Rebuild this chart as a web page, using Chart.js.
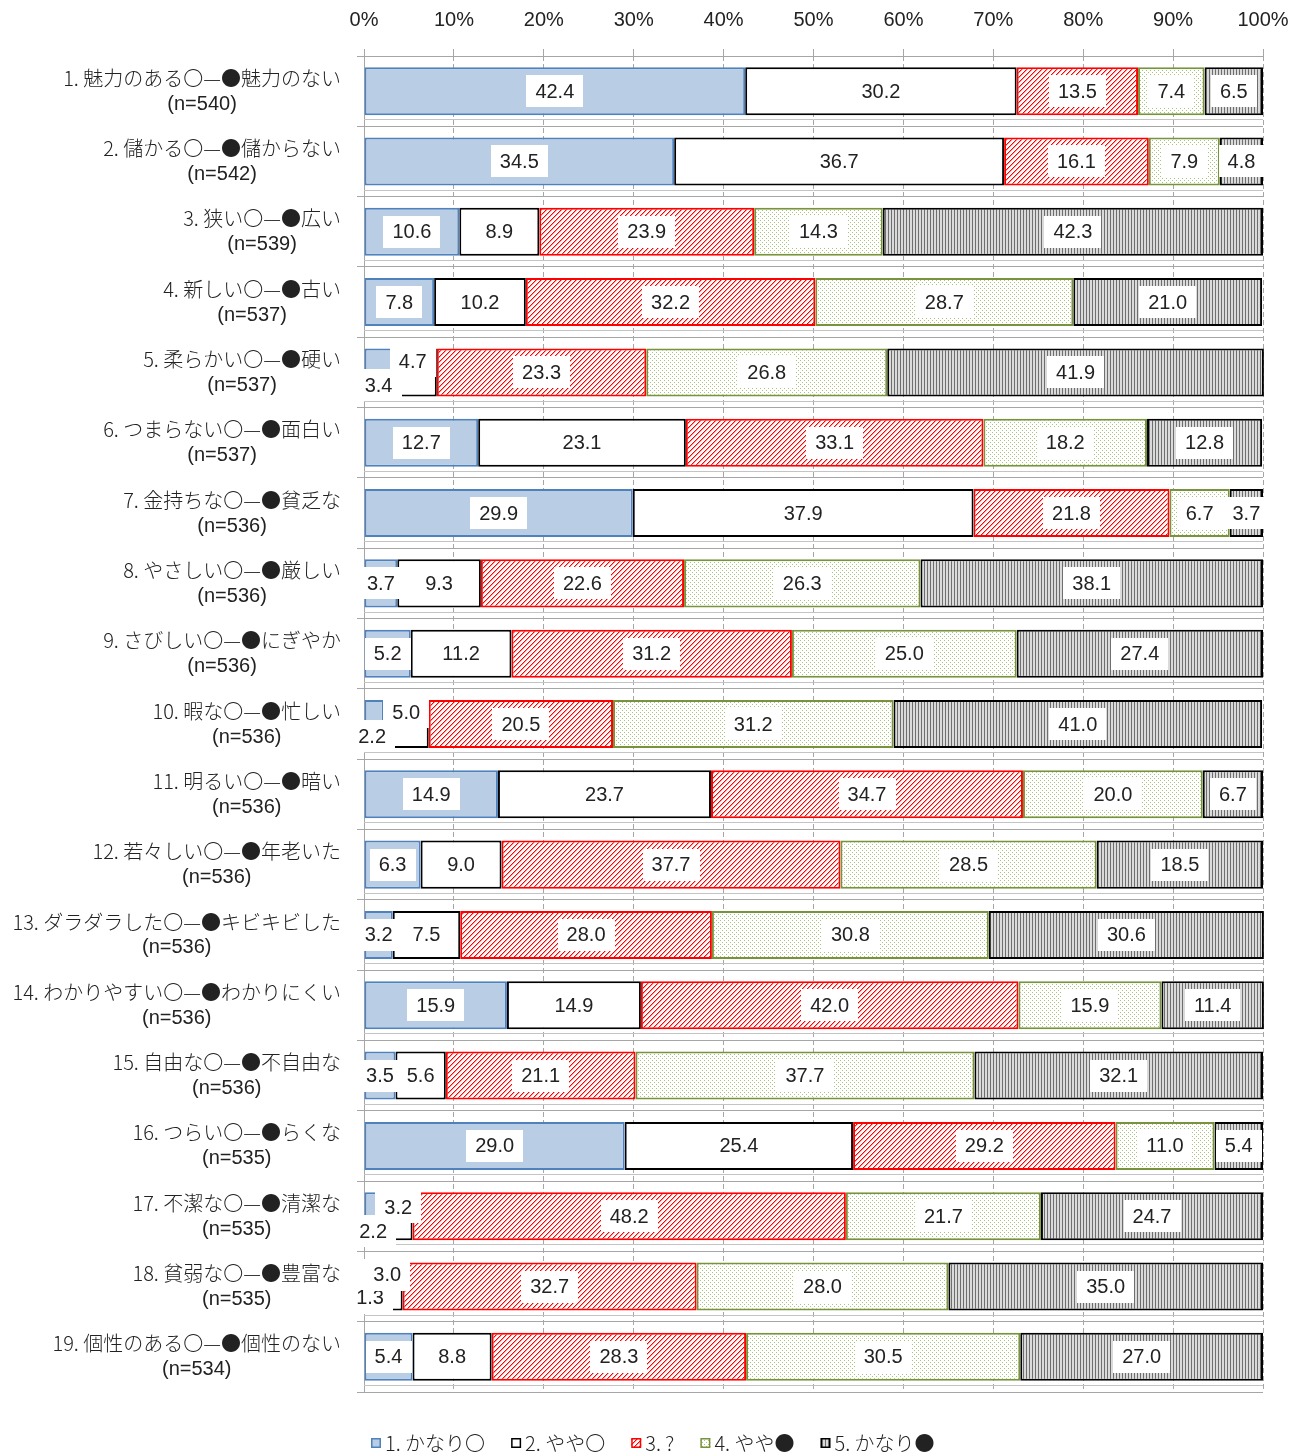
<!DOCTYPE html>
<html lang="ja">
<head>
<meta charset="utf-8">
<title>イメージ評価</title>
<script src="https://cdn.jsdelivr.net/npm/chart.js@4.4.1/dist/chart.umd.min.js"></script>
<style>
  html, body { margin: 0; padding: 0; background: #fff; }
  #wrap { width: 1299px; height: 1455px; }
</style>
</head>
<body>
<div id="wrap"><canvas id="chart" width="1299" height="1455"></canvas></div>
<script>
// item wording and sample sizes
const categories = [
  "1. 魅力のある〇—●魅力のない",
  "2. 儲かる〇—●儲からない",
  "3. 狭い〇—●広い",
  "4. 新しい〇—●古い",
  "5. 柔らかい〇—●硬い",
  "6. つまらない〇—●面白い",
  "7. 金持ちな〇—●貧乏な",
  "8. やさしい〇—●厳しい",
  "9. さびしい〇—●にぎやか",
  "10. 暇な〇—●忙しい",
  "11. 明るい〇—●暗い",
  "12. 若々しい〇—●年老いた",
  "13. ダラダラした〇—●キビキビした",
  "14. わかりやすい〇—●わかりにくい",
  "15. 自由な〇—●不自由な",
  "16. つらい〇—●らくな",
  "17. 不潔な〇—●清潔な",
  "18. 貧弱な〇—●豊富な",
  "19. 個性のある〇—●個性のない"
];
const sampleSizes = [540, 542, 539, 537, 537, 537, 536, 536, 536, 536, 536, 536, 536, 536, 536, 535, 535, 535, 534];

const seriesNames = ["1. かなり〇", "2. やや〇", "3. ?", "4. やや●", "5. かなり●"];
const kanariMaru  = [42.4, 34.5, 10.6, 7.8, 3.4, 12.7, 29.9, 3.7, 5.2, 2.2, 14.9, 6.3, 3.2, 15.9, 3.5, 29.0, 2.2, 1.3, 5.4];
const yayaMaru    = [30.2, 36.7, 8.9, 10.2, 4.7, 23.1, 37.9, 9.3, 11.2, 5.0, 23.7, 9.0, 7.5, 14.9, 5.6, 25.4, 3.2, 3.0, 8.8];
const dochiramo   = [13.5, 16.1, 23.9, 32.2, 23.3, 33.1, 21.8, 22.6, 31.2, 20.5, 34.7, 37.7, 28.0, 42.0, 21.1, 29.2, 48.2, 32.7, 28.3];
const yayaKuro    = [7.4, 7.9, 14.3, 28.7, 26.8, 18.2, 6.7, 26.3, 25.0, 31.2, 20.0, 28.5, 30.8, 15.9, 37.7, 11.0, 21.7, 28.0, 30.5];
const kanariKuro  = [6.5, 4.8, 42.3, 21.0, 41.9, 12.8, 3.7, 38.1, 27.4, 41.0, 6.7, 18.5, 30.6, 11.4, 32.1, 5.4, 24.7, 35.0, 27.0];

const xTicks = [0, 10, 20, 30, 40, 50, 60, 70, 80, 90, 100];

// thin segments: their labels are pushed above/below the bar (dataset:row -> dx, dy)
const labelNudge = {
  "0:4": [-1, 13], "1:4": [-3, -11],
  "0:9": [-2, 12], "1:9": [0, -12],
  "0:16": [-1, 15], "1:16": [0, -9],
  "0:17": [0, 11], "1:17": [-2, -12]
};

const FONT = "'Liberation Sans', Arial, 'Noto Sans CJK JP', sans-serif";
const JP_FONT = "'Noto Sans CJK JP', 'Liberation Sans', sans-serif";
const TEXT = "#222222";
const GRID = "#a6a6a6";

const canvas = document.getElementById("chart");
const ctx = canvas.getContext("2d");

function tile(w, h, paint) {
  const c = document.createElement("canvas");
  c.width = w;
  c.height = h;
  const g = c.getContext("2d");
  g.fillStyle = "#fff";
  g.fillRect(0, 0, w, h);
  paint(g);
  return ctx.createPattern(c, "repeat");
}

// red "///" hatch
const redHatch = tile(5, 5, (g) => {
  for (let x = 0; x < 5; x++) {
    for (let y = 0; y < 5; y++) {
      const k = (x + y) % 5;
      if (k === 0) { g.fillStyle = "#ff0000"; g.fillRect(x, y, 1, 1); }
      else if (k === 1) { g.fillStyle = "#ff9c9c"; g.fillRect(x, y, 1, 1); }
    }
  }
});

// sparse green dots
const greenDots = tile(4, 4, (g) => {
  g.fillStyle = "#a9c37a";
  g.fillRect(0, 0, 1, 1);
  g.fillRect(2, 2, 1, 1);
});

// dense vertical stripes
const grayStripes = tile(3, 1, (g) => {
  g.fillStyle = "#6e6e6e";
  g.fillRect(0, 0, 1, 1);
  g.fillStyle = "#dadada";
  g.fillRect(1, 0, 2, 1);
});

const seriesData = [kanariMaru, yayaMaru, dochiramo, yayaKuro, kanariKuro];
const fills = ["#b9cde5", "#ffffff", redHatch, greenDots, grayStripes];
const borders = ["#4f81bd", "#000000", "#ff0000", "#77933c", "#000000"];

const datasets = seriesData.map((values, i) => ({
  label: seriesNames[i],
  data: values,
  backgroundColor: fills[i],
  borderColor: borders[i],
  borderWidth: 2,
  borderSkipped: false,
  categoryPercentage: 1,
  barPercentage: 0.683,
  clip: 4
}));

// second faint line just under every bar row
const rowLines = {
  id: "rowLines",
  beforeDatasetsDraw(chart) {
    const { ctx, chartArea, scales } = chart;
    const y = scales.y;
    const step = (chartArea.bottom - chartArea.top) / categories.length;
    ctx.save();
    ctx.strokeStyle = "#c4c4c4";
    ctx.lineWidth = 1;
    for (let i = 0; i < categories.length; i++) {
      const yy = Math.round(y.getPixelForValue(i) + step / 2 - 7) + 0.5;
      ctx.beginPath();
      ctx.moveTo(chartArea.left, yy);
      ctx.lineTo(chartArea.right, yy);
      ctx.stroke();
    }
    ctx.restore();
  }
};

// value labels on white boxes
const valueLabels = {
  id: "valueLabels",
  afterDatasetsDraw(chart) {
    const ctx = chart.ctx;
    ctx.save();
    ctx.font = "20px " + FONT;
    ctx.textAlign = "center";
    ctx.textBaseline = "middle";
    chart.data.datasets.forEach((ds, di) => {
      chart.getDatasetMeta(di).data.forEach((bar, i) => {
        const text = ds.data[i].toFixed(1);
        const nudge = labelNudge[di + ":" + i] || [0, 0];
        const x = (bar.x + bar.base) / 2 + nudge[0];
        const y = bar.y + nudge[1];
        const w = ctx.measureText(text).width + 18;
        const h = 32;
        ctx.fillStyle = "#fff";
        ctx.fillRect(Math.round(x - w / 2), Math.round(y - h / 2), Math.round(w), h);
        ctx.fillStyle = TEXT;
        ctx.fillText(text, x, y + 1);
      });
    });
    ctx.restore();
  }
};

// two-line category labels, each block centred and right aligned to the axis
const rowLabels = {
  id: "rowLabels",
  afterDraw(chart) {
    const ctx = chart.ctx;
    const right = chart.chartArea.left - 23;
    ctx.save();
    ctx.fillStyle = TEXT;
    ctx.textAlign = "center";
    ctx.textBaseline = "middle";
    const jp = "300 20px " + JP_FONT;
    const latin = "20px " + FONT;
    categories.forEach((name, i) => {
      const second = "(n=" + sampleSizes[i] + ")";
      ctx.font = jp;
      const w1 = ctx.measureText(name).width;
      ctx.font = latin;
      const w2 = ctx.measureText(second).width;
      const cx = right - Math.max(w1, w2) / 2;
      const cy = chart.scales.y.getPixelForValue(i);
      ctx.font = jp;
      ctx.fillText(name, cx, cy - 13);
      ctx.font = latin;
      ctx.fillText(second, cx, cy + 13);
    });
    ctx.restore();
  }
};

// legend row along the bottom
const legendRow = {
  id: "legendRow",
  afterDraw(chart) {
    const ctx = chart.ctx;
    const box = 10, gapText = 4, gapItem = 26;
    const cy = 1443;
    ctx.save();
    ctx.font = "300 20px " + JP_FONT;
    ctx.textBaseline = "middle";
    ctx.textAlign = "left";
    const widths = seriesNames.map((n) => box + gapText + ctx.measureText(n).width);
    const total = widths.reduce((a, b) => a + b, 0) + gapItem * (widths.length - 1);
    let x = Math.round(chart.width / 2 - total / 2 + 3);
    seriesNames.forEach((n, i) => {
      const top = Math.round(cy - box / 2);
      ctx.fillStyle = fills[i];
      ctx.fillRect(x, top, box, box);
      ctx.strokeStyle = borders[i];
      ctx.lineWidth = 1.5;
      ctx.strokeRect(x + 0.75, top + 0.75, box - 1.5, box - 1.5);
      ctx.fillStyle = TEXT;
      ctx.fillText(n, x + box + gapText, cy);
      x += widths[i] + gapItem;
    });
    ctx.restore();
  }
};

new Chart(ctx, {
  type: "bar",
  data: {
    labels: categories,
    datasets: datasets
  },
  options: {
    indexAxis: "y",
    responsive: false,
    animation: false,
    devicePixelRatio: 1,
    layout: {
      padding: { left: 0, right: 36, top: 0, bottom: 63 }
    },
    plugins: {
      legend: { display: false },
      tooltip: { enabled: false }
    },
    scales: {
      x: {
        position: "top",
        stacked: true,
        min: 0,
        max: 100,
        afterBuildTicks: (scale) => {
          scale.ticks = xTicks.map((v) => ({ value: v }));
        },
        afterFit: (scale) => {
          scale.height = 56;
          scale.paddingLeft = 0;
          scale.paddingRight = 0;
        },
        ticks: {
          color: TEXT,
          font: { size: 20, family: FONT },
          padding: 17,
          callback: (v) => v + "%"
        },
        grid: {
          color: GRID,
          lineWidth: 1,
          tickLength: 7
        },
        border: { display: false, dash: [5, 3] }
      },
      y: {
        stacked: true,
        afterFit: (scale) => {
          scale.width = 364;
        },
        ticks: { display: false },
        grid: {
          offset: true,
          color: GRID,
          lineWidth: 1,
          tickLength: 7
        },
        border: { display: true, color: GRID, width: 1 }
      }
    }
  },
  plugins: [rowLines, valueLabels, rowLabels, legendRow]
});
</script>
</body>
</html>
